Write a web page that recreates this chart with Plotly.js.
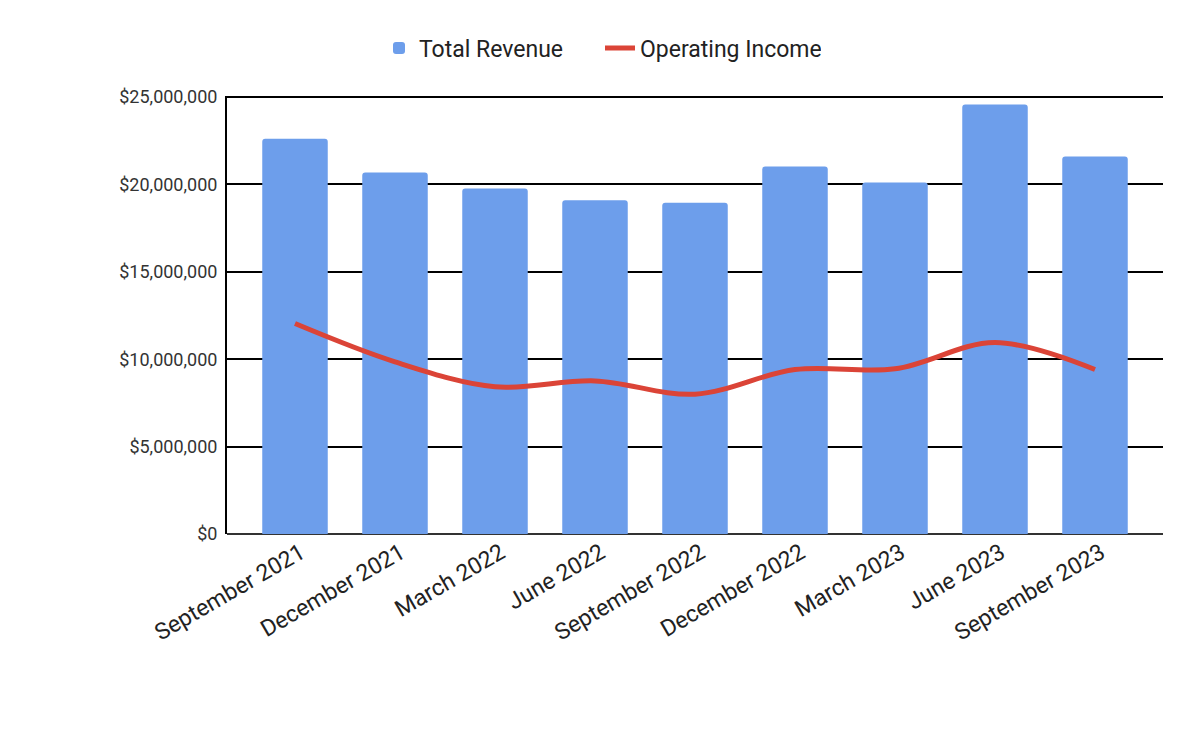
<!DOCTYPE html>
<html>
<head>
<meta charset="utf-8">
<script src="https://cdn.plot.ly/plotly-3.0.1.min.js"></script>
<style>html,body{margin:0;padding:0;background:#fff;}#chart{width:1200px;height:741px;}</style>
</head>
<body>
<div id="chart"></div>
<script>
const quarters = ["September 2021","December 2021","March 2022","June 2022","September 2022","December 2022","March 2023","June 2023","September 2023"];
const totalRevenue = [22610000, 20690000, 19770000, 19090000, 18950000, 21030000, 20110000, 24570000, 21600000];
const operatingIncome = [12040000, 9850000, 8420000, 8760000, 8000000, 9410000, 9450000, 10950000, 9410000];
const yTickVals = [0, 5000000, 10000000, 15000000, 20000000, 25000000];
const yTickText = yTickVals.map(v => '$' + v.toLocaleString('en-US'));

const traces = [
  {
    type: 'bar', name: 'Total Revenue', x: quarters, y: totalRevenue,
    marker: {color: '#6d9eeb', cornerradius: 3}, width: 0.655,
    hoverinfo: 'x+y'
  },
  {
    type: 'scatter', mode: 'lines', name: 'Operating Income', x: quarters, y: operatingIncome,
    line: {color: '#db4437', width: 5, shape: 'spline', smoothing: 1},
    hoverinfo: 'x+y'
  }
];

const layout = {
  width: 1200, height: 741,
  margin: {l: 227, r: 37, t: 96, b: 207},
  paper_bgcolor: '#fff', plot_bgcolor: '#fff',
  font: {family: 'Roboto, Arial, sans-serif', color: '#222'},
  showlegend: true,
  legend: {
    orientation: 'h', x: 0.5, xanchor: 'center', xref: 'container',
    y: 1 - 48/741, yanchor: 'middle', yref: 'container',
    font: {size: 23, color: '#222'}, itemwidth: 30, tracegroupgap: 0,
    entrywidth: 176, entrywidthmode: 'pixels'
  },
  xaxis: {
    type: 'category', range: [-0.68, 8.68],
    tickangle: -30, tickfont: {size: 23, color: '#222'},
    ticklabelshift: 6,
    showgrid: false, zeroline: false, showline: false, ticks: ''
  },
  yaxis: {
    range: [0, 25060000], tickvals: yTickVals, ticktext: yTickText,
    tickfont: {size: 18, color: '#333'},
    showgrid: true, gridcolor: '#000', gridwidth: 2,
    zeroline: true, zerolinecolor: '#333', zerolinewidth: 2,
    showline: true, linecolor: '#000', linewidth: 2, ticks: '',
    ticklabelstandoff: 4
  }
};

Plotly.newPlot('chart', traces, layout, {displayModeBar: false, staticPlot: true});
</script>
</body>
</html>
